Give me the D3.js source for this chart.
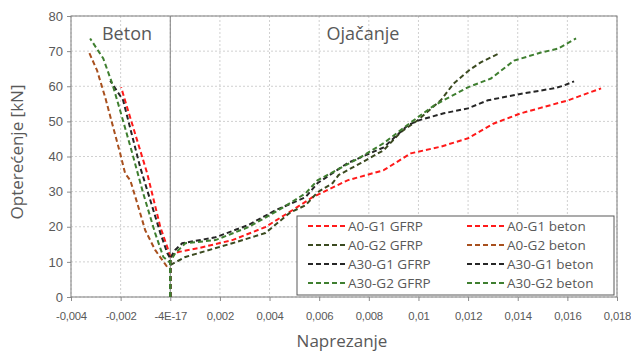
<!DOCTYPE html>
<html><head><meta charset="utf-8">
<script src="https://cdn.jsdelivr.net/npm/d3@7"></script>
<style>body{margin:0;background:#fff}svg{font-family:"Open Sans",sans-serif}</style>
</head><body><svg id="c" width="631" height="353"></svg>
<script>
const xTicks=[-0.004,-0.002,0,0.002,0.004,0.006,0.008,0.01,0.012,0.014,0.016,0.018];
const xTickLabels=["-0,004","-0,002","-4E-17","0,002","0,004","0,006","0,008","0,01","0,012","0,014","0,016","0,018"];
const yTicks=[0,10,20,30,40,50,60,70,80];
const seriesNames=["A0-G1 GFRP","A0-G1 beton","A0-G2 GFRP","A0-G2 beton","A30-G1 GFRP","A30-G1 beton","A30-G2 GFRP","A30-G2 beton"];
const seriesColors=["#ff1a1a","#ff1a1a","#3b4a20","#a8501e","#262626","#262626","#3f7f30","#3f7f30"];
const a0g1GFRP=[[0,0],[0,11.4],[0.00032,12.8],[0.00113,13.9],[0.0025,16.2],[0.00383,19.9],[0.00492,24.7],[0.00573,28.4],[0.00714,33.2],[0.0086,36.1],[0.00969,40.9],[0.0109,42.8],[0.012,45.2],[0.01304,49.4],[0.01413,52.3],[0.01603,56],[0.01736,59.4]];
const a0g1Beton=[[0,0],[0,11.4],[-0.00012,14.2],[-0.0004,19.9],[-0.00093,35.2],[-0.00174,54],[-0.00198,59.7]];
const a0g2GFRP=[[0,0],[0,9.1],[0.00061,11.4],[0.0025,15.3],[0.00383,18.2],[0.00484,24.1],[0.00545,26.1],[0.00593,29.8],[0.00654,32.4],[0.00678,34.7],[0.00767,38.1],[0.0086,41.8],[0.00928,46.9],[0.00997,50.3],[0.0109,56],[0.01142,60.8],[0.01203,64.5],[0.01251,66.8],[0.01324,69.3]];
const a0g2Beton=[[0,0],[0,8],[-0.00012,8.5],[-0.00032,10.5],[-0.00061,13.4],[-0.00101,19],[-0.00133,26.7],[-0.00161,33.2],[-0.00182,35.2],[-0.00202,40.9],[-0.0023,48.3],[-0.00262,56.8],[-0.00295,64.5],[-0.00327,69.6]];
const a30g1GFRP=[[0,0],[0,11.1],[0.0002,13.4],[0.00048,15.3],[0.00182,17],[0.00315,20.5],[0.00424,24.7],[0.00545,28.4],[0.00593,32.4],[0.00714,38.1],[0.0086,42.6],[0.00957,48.9],[0.01001,50.3],[0.01102,52.3],[0.01199,53.7],[0.0128,56],[0.01425,58],[0.01546,59.4],[0.01586,60.2],[0.01627,61.4]];
const a30g1Beton=[[0,0],[0,11],[-0.00012,12.5],[-0.0004,18.2],[-0.00121,36.9],[-0.0019,56],[-0.00242,61.6]];
const a30g2GFRP=[[0,0],[0,10],[0.0002,12.5],[0.00061,15.3],[0.00182,16.2],[0.00315,19.9],[0.00436,24.7],[0.00545,29.5],[0.00593,33.2],[0.00767,39.8],[0.0086,43.8],[0.00969,49.7],[0.01062,54.5],[0.01199,59.7],[0.01292,62.2],[0.01385,67.3],[0.01494,69.6],[0.01562,70.7],[0.01635,73.6]];
const a30g2Beton=[[0,0],[0,9.7],[-0.00028,11.4],[-0.00061,18.2],[-0.00109,29.5],[-0.00153,40.9],[-0.00202,53.1],[-0.00234,60.8],[-0.0027,67.9],[-0.00323,73.6]];
const seriesData=[a0g1GFRP,a0g1Beton,a0g2GFRP,a0g2Beton,a30g1GFRP,a30g1Beton,a30g2GFRP,a30g2Beton];

const svg=d3.select("#c");
const L=71,R=617,T=16,B=297;
const x=d3.scaleLinear().domain([-0.004,0.018]).range([L,R]);
const y=d3.scaleLinear().domain([0,80]).range([B,T]);
const txt="#595959";

// grid
svg.append("g").selectAll("line").data(xTicks).join("line")
 .attr("x1",d=>x(d)).attr("x2",d=>x(d)).attr("y1",T).attr("y2",B)
 .attr("stroke","#d0d0d0").attr("stroke-dasharray","2,2").attr("stroke-width",1);
svg.append("g").selectAll("line").data(yTicks).join("line")
 .attr("x1",L).attr("x2",R).attr("y1",d=>y(d)).attr("y2",d=>y(d))
 .attr("stroke","#d0d0d0").attr("stroke-dasharray","2,2").attr("stroke-width",1);

// axes
const yAx=svg.append("g").attr("transform",`translate(${L},0)`)
 .call(d3.axisLeft(y).tickValues(yTicks).tickSize(4).tickPadding(4).tickFormat(d3.format("d")));
yAx.selectAll("text").attr("fill",txt).style("font-size","13px");
yAx.selectAll("line").attr("stroke","#8c8c8c");
yAx.select(".domain").remove();
const xAx=svg.append("g").attr("transform",`translate(0,${B})`)
 .call(d3.axisBottom(x).tickValues(xTicks).tickSize(4).tickPadding(11).tickFormat((d,i)=>xTickLabels[i]));
xAx.selectAll("text").attr("fill",txt).style("font-size","11.3px").attr("letter-spacing","-0.2px");
xAx.selectAll("line").attr("stroke","#8c8c8c");
xAx.select(".domain").remove();

// plot border
svg.append("rect").attr("x",L).attr("y",T).attr("width",R-L).attr("height",B-T)
 .attr("fill","none").attr("stroke","#7f7f7f").attr("stroke-width",1);
// zero line
svg.append("line").attr("x1",x(0)).attr("x2",x(0)).attr("y1",T).attr("y2",B)
 .attr("stroke","#7f7f7f").attr("stroke-width",1);

// series
const line=d3.line().x(d=>x(d[0])).y(d=>y(d[1]));
seriesData.forEach((s,i)=>{
 svg.append("path").datum(s).attr("d",line).attr("fill","none")
  .attr("stroke",seriesColors[i]).attr("stroke-width",2).attr("stroke-dasharray","5,3");
});

// annotations
svg.append("text").attr("x",127).attr("y",40).attr("text-anchor","middle").attr("fill",txt).style("font-size","18px").text("Beton");
svg.append("text").attr("x",363).attr("y",40).attr("text-anchor","middle").attr("fill",txt).style("font-size","18px").text("Ojačanje");

// titles
svg.append("text").attr("x",342).attr("y",347).attr("text-anchor","middle").attr("fill",txt).style("font-size","17px").text("Naprezanje");
svg.append("text").attr("transform","translate(23,152) rotate(-90)").attr("text-anchor","middle").attr("fill",txt).style("font-size","17px").text("Opterećenje [kN]");

// legend
const lg=svg.append("g");
lg.append("rect").attr("x",297).attr("y",216).attr("width",317).attr("height",79).attr("fill","#fff").attr("stroke","#595959").attr("stroke-width",1);
seriesNames.forEach((n,i)=>{
 const col=i%2,row=Math.floor(i/2);
 const lx=col?467:308, ty=226+row*19;
 lg.append("line").attr("x1",lx).attr("x2",lx+37).attr("y1",ty).attr("y2",ty)
  .attr("stroke",seriesColors[i]).attr("stroke-width",2).attr("stroke-dasharray","5,3");
 lg.append("text").attr("x",lx+40).attr("y",ty+5).attr("fill",txt).style("font-size","13.5px").text(n);
});
</script></body></html>
